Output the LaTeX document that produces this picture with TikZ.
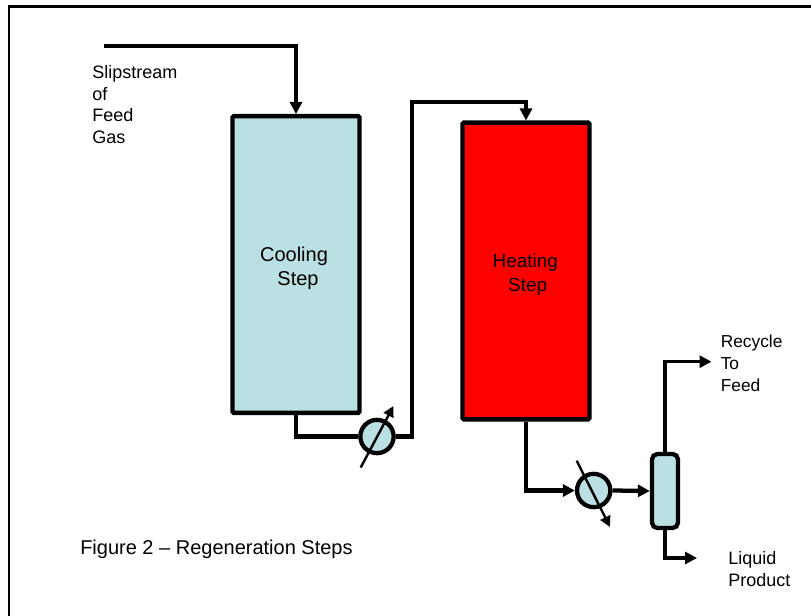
\documentclass[tikz,border=0pt]{standalone}
\usepackage{fontspec}
\setmainfont{Liberation Sans}
\usetikzlibrary{arrows.meta}
\usetikzlibrary{positioning}
\definecolor{vessel}{RGB}{186,224,228}
\begin{document}
\begin{tikzpicture}[
			x=0.75pt,
			y=-0.75pt,
			tower/.style={
					draw,
					line width=3.3pt,
					rounded corners=1pt,
					minimum width=95.3pt,
					minimum height=222.5pt,
					inner sep=0pt
				},
			exchanger/.style={
					circle,
					draw,
					fill=vessel,
					line width=3.2pt,
					minimum size=25pt,
					inner sep=0pt
				},
			label/.style={
					font=\fontsize{13.5}{16.3}\selectfont,
					align=left,
					inner sep=0pt,
					anchor=north west
				},
			flow/.style={line width=3.2pt, -{Triangle[length=9pt, width=9pt]}},
			pipe/.style={line width=3.2pt},
			thinpipe/.style={line width=2.4pt, -{Triangle[length=9pt, width=9pt]}},
			tuning/.style={line width=1.8pt, -{Triangle[length=8pt, width=8pt]}}
		]
		\useasboundingbox (0, 0) rectangle (811, 616);
		\draw[line width=1.8pt] (8.8, 616) |- (811, 6.7);

		\node[tower, fill=vessel] (cool) at (296, 264.5) {};
		\node[tower, fill=red] (heat) at (526, 271) {};
		\node[exchanger] (hx1) at (377, 436.5) {};
		\node[exchanger] (hx2) at (593.7, 490.5) {};
		\node[draw, fill=vessel, rounded corners=4pt, line width=3.2pt, minimum width=19.5pt, minimum height=55.5pt, inner sep=0pt] (sep) at (665, 491) {};

		\coordinate (feed) at (104, 46);
		\coordinate (recycle) at (711.5, 361.7);
		\coordinate (liquid) at (697, 558);
		\coordinate (riser) at (412, 102);
		\coordinate (tune1a) at (360.7, 467.5);
		\coordinate (tune1b) at (393.5, 406);
		\coordinate (tune2a) at (576.7, 460.7);
		\coordinate (tune2b) at (610, 527);

		\node[label] (feedlbl) at (92, 65) {Slipstream\\of\\Feed\\Gas};
		\node[font=\fontsize{15}{18}\selectfont, align=center] (coollbl) at (294, 268) {Cooling\\\hspace*{6pt}Step};
		\node[font=\fontsize{14.2}{18}\selectfont, align=center] (heatlbl) at (525.3, 275) {Heating\\\hspace*{3.5pt}Step};
		\node[label, font=\fontsize{13}{16.3}\selectfont] (recyclelbl) at (720.5, 335) {Recycle\\To\\Feed};
		\node[label] (liquidlbl) at (728, 551) {Liquid\\Product};
		\node[label, font=\fontsize{15}{18}\selectfont] (caption) at (80, 539.5) {Figure 2 -- Regeneration Steps};

		\draw[flow] (feed) -| (cool.north);
		\draw[pipe] (cool.south) |- (hx1.west);
		\draw[flow] (hx1.east) -| (riser) -| (heat.north);
		\draw[flow] (heat.south) |- (hx2.west);
		\draw[flow] (hx2.east) -- (sep.west);
		\draw[thinpipe] (sep.north) |- (recycle);
		\draw[thinpipe] (sep.south) |- (liquid);

		\draw[tuning] (tune1a) -- (tune1b);
		\draw[tuning] (tune2a) -- (tune2b);
	\end{tikzpicture}
\end{document}
